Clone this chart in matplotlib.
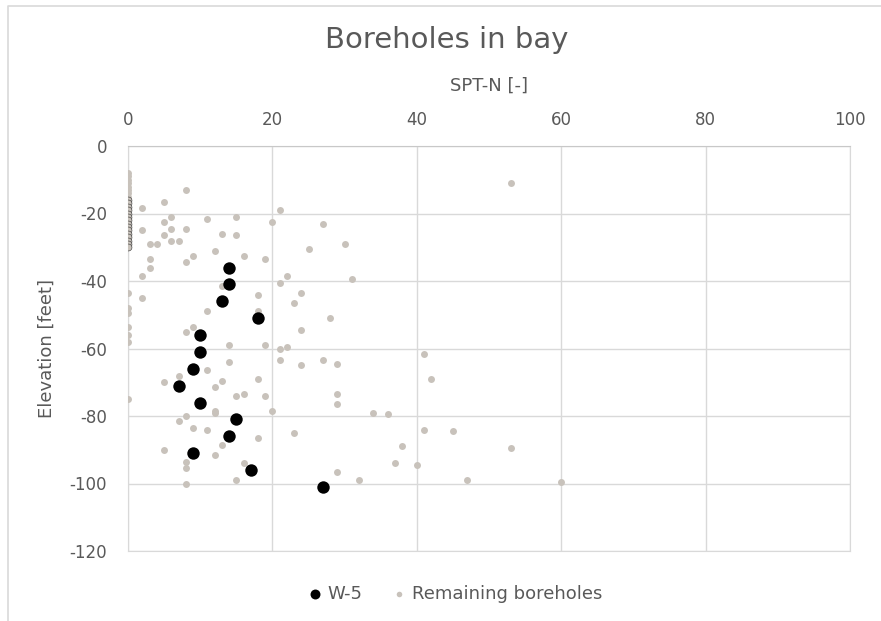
import matplotlib

matplotlib.use("Agg")
import matplotlib.pyplot as plt  # noqa: E402
from matplotlib.lines import Line2D  # noqa: E402

plt.rcParams["axes.unicode_minus"] = False

# W-5 borehole: SPT-N vs elevation
w5_spt = [14, 14, 13, 18, 10, 10, 9, 7, 10, 15, 14, 9, 17, 27]
w5_elev = [-36, -41, -46, -51, -56, -61, -66, -71, -76, -81, -86, -91, -96, -101]

# remaining boreholes, one line per region
rem_spt = [
    53, 30, 31, 29, 41, 42, 29, 29, 34, 36, 41, 45, 38, 53, 37, 40, 29, 32, 47, 60,
    11, 15, 21, 20, 27, 13, 15, 12, 16, 19, 25, 13, 21, 22, 24, 23, 18, 11, 18, 28,
    24, 14, 19, 21, 22, 14, 21, 24, 27, 11, 13, 12, 18, 15, 16, 19, 12, 20, 11, 18, 23, 13, 12, 16, 15,
    8, 5, 2, 6, 5, 6, 8, 2, 5, 3, 4, 6, 7, 9, 3, 3, 2, 8, 0, 2, 0, 0, 0, 0, 0, 8, 9, 7, 5, 0, 12, 8, 7, 9, 5, 8, 8, 8,
]
rem_elev = [
    -11, -29, -39.5, -64.5, -61.5, -69, -73.5, -76.5, -79, -79.5, -84, -84.5, -89, -89.5, -94, -94.5, -96.5, -99, -99, -99.5,
    -21.5, -21, -19, -22.5, -23, -26, -26.5, -31, -32.5, -33.5, -30.5, -41.5, -40.5, -38.5, -43.5, -46.5, -44, -49, -49, -51,
    -54.5, -59, -59, -60, -59.5, -64, -63.5, -65, -63.5, -66.5, -69.5, -71.5, -69, -74, -73.5, -74, -78.5, -78.5, -84, -86.5, -85, -88.5, -91.5, -94, -99,
    -13, -16.5, -18.5, -21, -22.5, -24.5, -24.5, -25, -26.5, -29, -29, -28, -28, -32.5, -33.5, -36, -38.5, -34.5, -43.5, -45, -48, -49.5, -53.5, -56, -58, -55, -53.5, -68, -70, -75, -79, -80, -81.5, -83.5, -90, -93.5, -95.5, -100,
]

# stacked readings at SPT-N = 0 near the top
zero_elev_upper = [-8, -9, -10, -11, -12, -13, -14, -15]
zero_elev_lower = [-16, -17, -18, -19, -20, -21, -22, -23, -24, -25, -26, -27,
                   -28, -29, -30]

TXT = "#595959"
GRID = "#d9d9d9"
GREY = "#c8c2bb"

fig = plt.figure(figsize=(8.81, 6.21), dpi=100)
# chart-area border (only left and top edges fall inside the picture)
fig.lines.append(Line2D([8 / 881, 8 / 881, 1.0], [0.0, 1 - 6 / 621, 1 - 6 / 621],
                        transform=fig.transFigure, color="#d9d9d9", linewidth=1.2))
ax = fig.add_axes([128 / 881, 1 - 551 / 621, (850 - 128) / 881, (551 - 146) / 621])

ax.scatter([0] * len(zero_elev_upper), zero_elev_upper, s=25, color=GREY,
           linewidths=0, zorder=3)
ax.scatter([0] * len(zero_elev_lower), zero_elev_lower, s=25, facecolor=GREY,
           edgecolor="#333333", linewidths=0.4, zorder=3)
ax.scatter(rem_spt, rem_elev, s=25, color=GREY, linewidths=0, zorder=3,
           label="Remaining boreholes")
ax.scatter(w5_spt, w5_elev, s=80, color="black", linewidths=0, zorder=4,
           label="W-5")

ax.set_xlim(0, 100)
ax.set_ylim(-120, 0)
ax.set_xticks(range(0, 101, 20))
ax.set_yticks(range(-120, 1, 20))
ax.xaxis.tick_top()
ax.xaxis.set_label_position("top")
ax.tick_params(length=0, labelsize=12, colors=TXT, pad=12)
ax.tick_params(axis="y", pad=15)
ax.grid(color=GRID, linewidth=1)
ax.set_axisbelow(True)
for sp in ax.spines.values():
    sp.set_color(GRID)
ax.spines["top"].set_color("#c8c8c8")

ax.set_xlabel("SPT-N [-]", fontsize=13, color=TXT, labelpad=15)
ax.set_ylabel("Elevation [feet]", fontsize=13, color=TXT, labelpad=10)

fig.text(447 / 881, 1 - 40 / 621, "Boreholes in bay", fontsize=21, color=TXT,
         ha="center", va="center")

handles, labels = ax.get_legend_handles_labels()
leg = fig.legend(handles[::-1], labels[::-1], loc="center",
                 bbox_to_anchor=(455 / 881, 1 - 594 / 621), ncol=2, frameon=False,
                 fontsize=13, handlelength=0.8, handletextpad=0.3,
                 columnspacing=1.6, markerscale=0.8)
for t in leg.get_texts():
    t.set_color(TXT)

fig.savefig("out.png", dpi=100)
